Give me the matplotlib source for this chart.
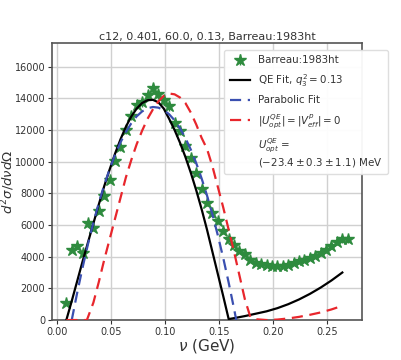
import matplotlib
matplotlib.use("Agg")
import matplotlib.pyplot as plt
import numpy as np

# measured data (Barreau:1983ht)
nu_data = [0.009, 0.014, 0.019, 0.024, 0.029, 0.034, 0.039, 0.044, 0.049, 0.054,
           0.059, 0.064, 0.069, 0.074, 0.079, 0.084, 0.089, 0.094, 0.099, 0.104,
           0.109, 0.114, 0.119, 0.124, 0.129, 0.134, 0.139, 0.144, 0.149, 0.154,
           0.159, 0.164, 0.169, 0.174, 0.179, 0.184, 0.189, 0.194, 0.199, 0.204,
           0.209, 0.214, 0.219, 0.224, 0.229, 0.234, 0.239, 0.244, 0.249, 0.254,
           0.259, 0.264, 0.269]
xs_data = [1050, 4450, 4700, 4230, 6120, 5800, 6880, 7800, 8850, 10050,
           10950, 12000, 12900, 13600, 13750, 14200, 14650, 14250, 13880, 13500,
           12450, 11950, 11000, 10200, 9300, 8300, 7400, 6750, 6250, 5600,
           5100, 4730, 4380, 4140, 3800, 3630, 3520, 3450, 3420, 3410,
           3430, 3480, 3600, 3700, 3800, 3930, 4060, 4230, 4420, 4700,
           4950, 5100, 5100]
xs_err = [60, 120, 120, 120, 150, 150, 170, 190, 210, 230,
          250, 270, 280, 290, 290, 300, 300, 300, 290, 290,
          270, 260, 250, 230, 220, 200, 190, 180, 170, 160,
          150, 150, 140, 140, 130, 130, 130, 130, 130, 130,
          130, 140, 140, 150, 150, 160, 170, 180, 190, 200,
          220, 240, 260]

# QE fit (black)
nu_qe = [0.009, 0.014, 0.019, 0.024, 0.029, 0.034, 0.039, 0.044, 0.049, 0.054,
         0.059, 0.064, 0.069, 0.074, 0.079, 0.084, 0.089, 0.094, 0.099, 0.104,
         0.109, 0.114, 0.119, 0.124, 0.129, 0.134, 0.139, 0.144, 0.149, 0.154,
         0.159, 0.164, 0.174, 0.184, 0.194, 0.204, 0.214, 0.224, 0.234, 0.244,
         0.254, 0.264]
xs_qe = [0, 1200, 2450, 3700, 4900, 6100, 7300, 8450, 9500, 10500,
         11400, 12200, 12850, 13350, 13700, 13880, 13900, 13750, 13350, 12700,
         12000, 11200, 10300, 9300, 8200, 7000, 5700, 4300, 2900, 1500,
         60, 120, 250, 400, 550, 750, 1000, 1300, 1650, 2050,
         2500, 3000]

# parabolic fit (blue)
nu_par = [0.014, 0.019, 0.024, 0.029, 0.034, 0.039, 0.044, 0.049, 0.054, 0.059,
          0.064, 0.069, 0.074, 0.079, 0.084, 0.089, 0.094, 0.099, 0.104, 0.109,
          0.114, 0.119, 0.124, 0.129, 0.134, 0.139, 0.144, 0.149, 0.154, 0.159,
          0.164, 0.166]
xs_par = [0, 1710, 3310, 4790, 6150, 7390, 8520, 9530, 10430, 11210,
          11870, 12420, 12860, 13170, 13370, 13450, 13410, 13260, 12990, 12610,
          12110, 11490, 10760, 9910, 8940, 7860, 6660, 5340, 3910, 2360,
          700, 0]

# |U_opt^QE| = |V_eff^p| = 0 (red)
nu_zero = [0.009, 0.019, 0.028, 0.034, 0.039, 0.044, 0.049, 0.054, 0.059, 0.064,
           0.069, 0.074, 0.079, 0.084, 0.089, 0.094, 0.099, 0.104, 0.109, 0.114,
           0.119, 0.124, 0.129, 0.134, 0.139, 0.144, 0.149, 0.154, 0.159, 0.164,
           0.169, 0.174, 0.179, 0.184, 0.194, 0.204, 0.214, 0.224, 0.234, 0.244,
           0.254, 0.264]
xs_zero = [0, 0, 0, 1100, 2400, 3800, 5100, 6400, 7700, 9000,
           10100, 11100, 11950, 12700, 13300, 13800, 14150, 14300, 14250, 14050,
           13700, 13100, 12350, 11500, 10800, 9700, 8400, 7100, 5700, 4300,
           2800, 1300, 200, 50, 0, 30, 100, 200, 330, 480,
           670, 900]

green = "#2e8b3e"

fig = plt.figure(figsize=(4.02, 3.6), dpi=100)
ax = fig.add_axes([0.13, 0.111, 0.770, 0.770])

h_data = ax.errorbar(nu_data, xs_data, yerr=xs_err, fmt="*", color=green, ecolor=green,
                     markersize=9, elinewidth=1, zorder=3)
h_qe, = ax.plot(nu_qe, xs_qe, color="black", lw=1.6, zorder=4)
h_par, = ax.plot(nu_par, xs_par, color="#3a4fb0", lw=1.6, ls=(0, (5, 3)), zorder=4)
h_zero, = ax.plot(nu_zero, xs_zero, color="#e8262c", lw=1.6, ls=(0, (5, 3)), zorder=4)
h_blank, = ax.plot([], [], " ")

ax.set_ylim(0, 17500)
ax.margins(x=0.05)
ax.set_xticks([0.0, 0.05, 0.10, 0.15, 0.20, 0.25])
ax.set_xticklabels(["0.00", "0.05", "0.10", "0.15", "0.20", "0.25"])
ax.set_yticks(np.arange(0, 16001, 2000))

ax.grid(True, color="#d0d0d0", lw=1.0)
ax.set_axisbelow(True)
for sp in ax.spines.values():
    sp.set_color("#555555")
    sp.set_linewidth(1.2)
ax.tick_params(labelsize=7, colors="#333333", length=3, width=0.8, pad=2)

ax.set_title("c12, 0.401, 60.0, 0.13, Barreau:1983ht", fontsize=8, color="#333333", pad=2)
ax.set_xlabel(r"$\nu$ (GeV)", fontsize=11, color="#333333", labelpad=0)
ax.set_ylabel(r"$d^2\sigma/d\nu d\Omega$", fontsize=9.5, color="#333333")
ax.yaxis.set_label_coords(-0.113, 0.5)

handles = [h_data, h_qe, h_par, h_zero, h_blank]
labels = ["Barreau:1983ht",
          r"QE Fit, $q_3^2 = 0.13$",
          "Parabolic Fit",
          r"$|U_{opt}^{QE}| = |V_{eff}^{p}| = 0$",
          r"$U_{opt}^{QE}$ =" + "\n" + r"$(-23.4 \pm 0.3 \pm 1.1)$ MeV"]
leg = ax.legend(handles, labels, loc="upper right", bbox_to_anchor=(388 / 402, 1 - 50 / 360),
                bbox_transform=fig.transFigure, borderaxespad=0, fontsize=7.4, numpoints=1,
                frameon=True, framealpha=0.95, edgecolor="#dddddd",
                handlelength=2.0, handletextpad=0.8, labelspacing=0.65, borderpad=0.5)
for t in leg.get_texts():
    t.set_color("#333333")

fig.savefig("out.png", dpi=100)
